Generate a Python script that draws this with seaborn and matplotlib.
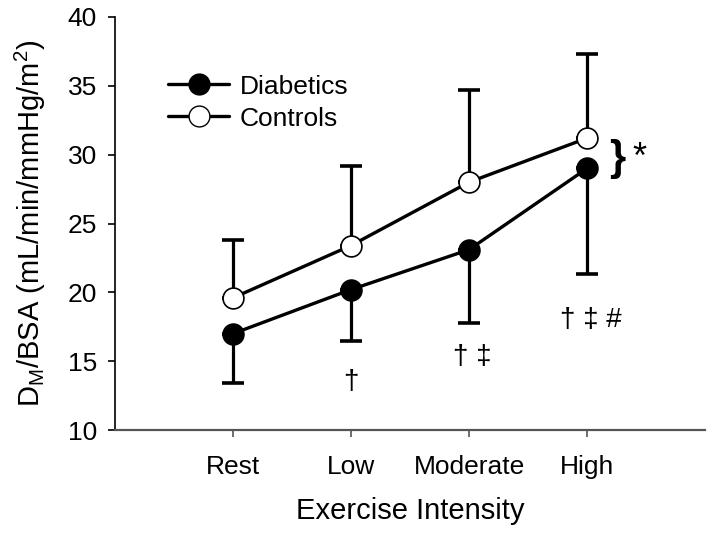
import numpy as np
import pandas as pd
import matplotlib
matplotlib.use("Agg")
import matplotlib.pyplot as plt
from matplotlib.lines import Line2D
import seaborn as sns

sns.set_theme(style="ticks")
plt.rcParams['font.family'] = ['Liberation Sans', 'DejaVu Sans']
plt.rcParams['mathtext.fontset'] = 'custom'
plt.rcParams['mathtext.rm'] = 'Liberation Sans'
plt.rcParams['text.color'] = 'black'
plt.rcParams['axes.labelcolor'] = 'black'
plt.rcParams['xtick.color'] = 'black'
plt.rcParams['ytick.color'] = 'black'

# data
intensity = ["Rest", "Low", "Moderate", "High"]
diabetics = [17.0, 20.2, 23.1, 29.0]
diabetics_low = [13.4, 16.5, 17.8, 21.3]      # lower end of error bar
controls = [19.6, 23.4, 28.0, 31.2]
controls_high = [23.8, 29.2, 34.7, 37.3]      # upper end of error bar
marks = ["", "\u2020", "\u2020 \u2021", "\u2020 \u2021 #"]
mark_y = [np.nan, 13.5, 15.3, 18.0]

df = pd.DataFrame({"intensity": intensity, "x": range(len(intensity)),
                   "Diabetics": diabetics, "Controls": controls})

fig = plt.figure(figsize=(7.14, 5.34), dpi=100)
ax = fig.add_axes([115 / 714, 1 - 430 / 534, 590 / 714, 413 / 534])

x = df["x"].to_numpy()
d = np.array(diabetics)
c = np.array(controls)
ax.errorbar(x, d, yerr=[d - np.array(diabetics_low), np.zeros_like(d)], fmt="none",
            ecolor="black", elinewidth=2.3, capsize=8, capthick=2.6, zorder=1)
ax.errorbar(x, c, yerr=[np.zeros_like(c), np.array(controls_high) - c], fmt="none",
            ecolor="black", elinewidth=2.3, capsize=8, capthick=2.6, zorder=1)

sns.lineplot(data=df, x="x", y="Diabetics", ax=ax, color="black", lw=2.4,
             marker="o", markersize=15, markerfacecolor="black",
             markeredgecolor="black", markeredgewidth=1.2, zorder=3)
sns.lineplot(data=df, x="x", y="Controls", ax=ax, color="black", lw=2.4,
             marker="o", markersize=15, markerfacecolor="white",
             markeredgecolor="black", markeredgewidth=1.2, zorder=3)

for xi, txt, yi in zip(x, marks, mark_y):
    if txt:
        ax.text(xi + (0.03 if xi > 1 else 0), yi, txt, ha="center", va="center", fontsize=20)

ax.text(3.26, 29.65, "}", ha="center", va="center", fontsize=30, fontweight="bold")
ax.text(3.44, 29.7, "*", ha="center", va="center", fontsize=26)

ax.set_xlim(-1, 4)
ax.set_ylim(10, 40)
ax.set_yticks(range(10, 41, 5))
ax.set_xticks(x)
ax.set_xticklabels(intensity)
ax.tick_params(axis="both", labelsize=19, direction="out", length=5, width=1.2)
ax.tick_params(axis="y", pad=8)
ax.tick_params(axis="x", pad=13, color="#555555")
ax.set_xlabel("Exercise Intensity", fontsize=21, labelpad=13)
ax.set_ylabel(r"D$_\mathregular{M}$/BSA (mL/min/mmHg/m$^\mathregular{2}$)", fontsize=21, labelpad=14)

for side in ["top", "right"]:
    ax.spines[side].set_visible(False)
ax.spines["left"].set_color("black")
ax.spines["left"].set_linewidth(1.2)
ax.spines["bottom"].set_color("#555555")
ax.spines["bottom"].set_linewidth(1.6)

handles = [
    Line2D([], [], color="black", lw=2.4, marker="o", markersize=15,
           markerfacecolor="black", markeredgecolor="black"),
    Line2D([], [], color="black", lw=2.4, marker="o", markersize=15,
           markerfacecolor="white", markeredgecolor="black"),
]
ax.legend(handles, ["Diabetics", "Controls"], loc="upper left",
          bbox_to_anchor=(0.05, 0.918), frameon=False, fontsize=19,
          handlelength=2.3, handletextpad=0.4, labelspacing=0.3)

fig.savefig("out.png", dpi=100)
